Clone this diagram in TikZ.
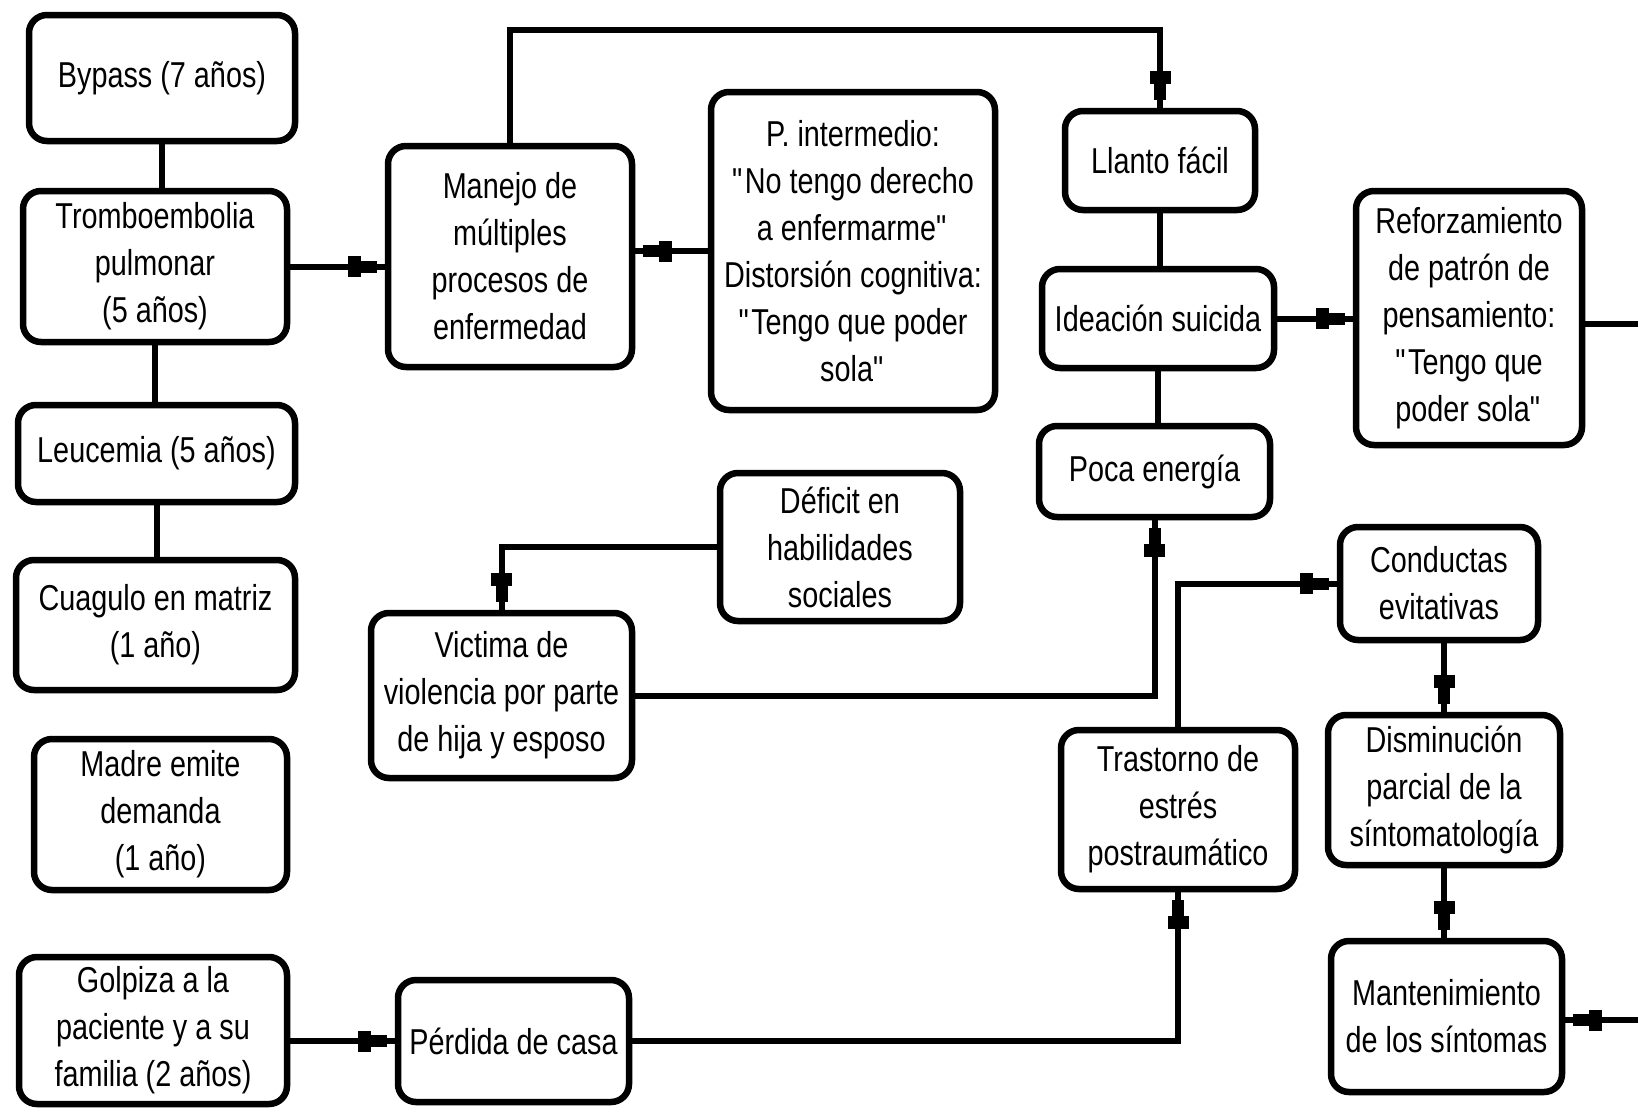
\documentclass[tikz,border=0pt]{standalone}
\usepackage{fontspec}
\setmainfont[FakeStretch=0.8]{Liberation Sans}
\usetikzlibrary{arrows.meta}
\usetikzlibrary{positioning}
\tikzstyle{box}=[rectangle,rounded corners=9pt,draw=black,line width=3.25pt,fill=white,align=center,inner sep=0pt,font=\fontsize{18pt}{23.5pt}\selectfont]
\tikzstyle{lin}=[draw=black,line width=3pt]
\tikzstyle{arr}=[lin,-{Rectangle[length=6.5pt,width=10.5pt,sep=0pt]Rectangle[length=8pt,width=6pt,sep=0pt]Rectangle[length=4pt,width=1pt,sep=0pt]}]
\newcommand{\qt}{\textquotedbl}

\begin{document}
\begin{tikzpicture}[x=0.5pt,y=-0.5pt]
  \useasboundingbox (0,0) rectangle (1638,1114);
  % left column
  \node[box,minimum width=133pt,minimum height=63pt] (Byp) at (162,78) {Bypass (7 años)};
  \node[box,minimum width=132pt,minimum height=75.5pt] (Trom) at (155,266.5) {Tromboembolia\\pulmonar\\(5 años)};
  \node[box,minimum width=138.5pt,minimum height=48.5pt] (Leu) at (156.5,453.5) {Leucemia (5 años)};
  \node[box,minimum width=139.5pt,minimum height=65pt] (Cuag) at (155.5,625) {Cuagulo en matriz\\(1 año)};
  \node[box,minimum width=126.5pt,minimum height=75.5pt] (Madre) at (160.5,814.5) {Madre emite\\demanda\\(1 año)};
  \node[box,minimum width=134pt,minimum height=73.5pt] (Golp) at (153,1030.5) {Golpiza a la\\paciente y a su\\familia (2 años)};
  % middle
  \node[box,minimum width=122pt,minimum height=110.5pt] (Man) at (510,256.5) {Manejo de\\múltiples\\procesos de\\enfermedad};
  \node[box,minimum width=142pt,minimum height=159pt] (Pint) at (853,251) {P. intermedio:\\\qt No tengo derecho\\a enfermarme\qt\\Distorsión cognitiva:\\\qt Tengo que poder\\sola\qt};
  \node[box,minimum width=120pt,minimum height=74pt] (Def) at (840,547) {Déficit en\\habilidades\\sociales};
  \node[box,minimum width=130.5pt,minimum height=82.5pt] (Vict) at (501.5,695.5) {Victima de\\violencia por parte\\de hija y esposo};
  \node[box,minimum width=115.5pt,minimum height=61pt] (Perd) at (513.5,1041) {Pérdida de casa};
  % right
  \node[box,minimum width=95pt,minimum height=49.5pt] (Llan) at (1160,160.5) {Llanto fácil};
  \node[box,minimum width=116pt,minimum height=49.5pt] (Idea) at (1158,318.5) {Ideación suicida};
  \node[box,minimum width=115.5pt,minimum height=45.5pt] (Poca) at (1154.5,471.5) {Poca energía};
  \node[box,minimum width=113pt,minimum height=127pt] (Refz) at (1469,318) {Reforzamiento\\de patrón de\\pensamiento:\\\qt Tengo que\\poder sola\qt};
  \node[box,minimum width=99pt,minimum height=56.5pt] (Cond) at (1439,583.5) {Conductas\\evitativas};
  \node[box,minimum width=116pt,minimum height=75pt] (Dism) at (1444,790) {Disminución\\parcial de la\\síntomatología};
  \node[box,minimum width=117pt,minimum height=79.5pt] (Tept) at (1178,809.5) {Trastorno de\\estrés\\postraumático};
  \node[box,minimum width=115.5pt,minimum height=75.5pt] (Mant) at (1446.5,1016.5) {Mantenimiento\\de los síntomas};
  \coordinate (top) at (0,30);
  \coordinate (R1) at (1640,324);
  \coordinate (R2) at (1640,1020);
  % connectors
  \draw[lin] (Byp.south) -- (Byp.south |- Trom.north);
  \draw[lin] (Trom.south) -- (Trom.south |- Leu.north);
  \draw[lin] (Leu.south) -- (Leu.south |- Cuag.north);
  \draw[arr] (Trom.east) -- (Trom.east -| Man.west);
  \draw[arr] (Pint.west) -- (Pint.west -| Man.east);
  \draw[arr] (Man.north) |- (top -| Llan.north) -- (Llan.north);
  \draw[lin] (Llan.south) -- (Llan.south |- Idea.north);
  \draw[lin] (Idea.south) -- (Idea.south |- Poca.north);
  \draw[arr] (Idea.east) -- (Idea.east -| Refz.west);
  \draw[lin] (Refz.east |- R1) -- (R1);
  \draw[arr] (Def.west) -| (Vict.north);
  \draw[arr] (Vict.east) -| (Poca.south);
  \draw[arr] (Tept.north) |- (Cond.west);
  \draw[arr] (Dism.north |- Cond.south) -- (Dism.north);
  \draw[arr] (Dism.south) -- (Dism.south |- Mant.north);
  \draw[arr] (R2) -- (R2 -| Mant.east);
  \draw[arr] (Golp.east |- Perd.west) -- (Perd.west);
  \draw[arr] (Perd.east) -| (Tept.south);
\end{tikzpicture}
\end{document}
